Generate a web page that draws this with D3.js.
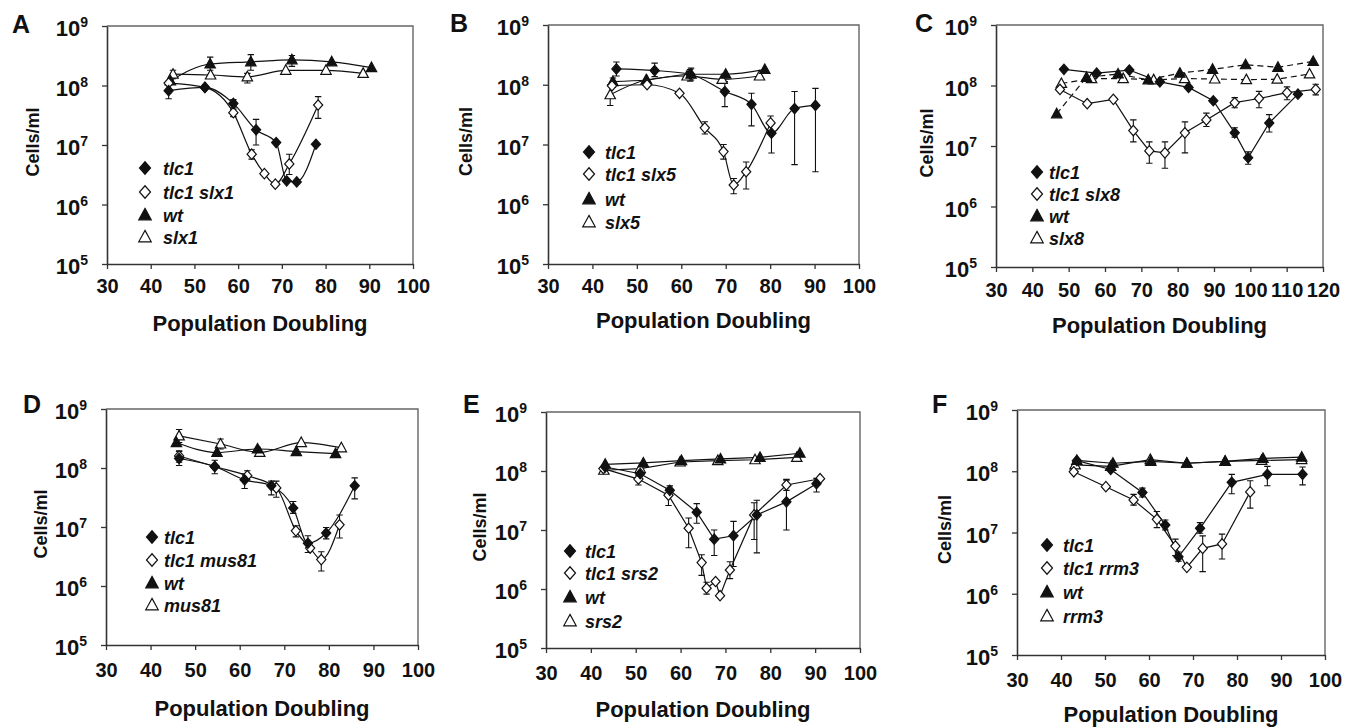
<!DOCTYPE html>
<html><head><meta charset="utf-8">
<script src="https://cdn.jsdelivr.net/npm/d3@7"></script>
<style>
html,body{margin:0;padding:0;background:#fff;}
svg{display:block;font-family:"Liberation Sans",Arial,Helvetica,sans-serif;}
</style></head>
<body><svg id="chart" width="1350" height="727"></svg>
<script>
// ---------- tick labels / categories ----------
const xTicks100 = [30,40,50,60,70,80,90,100];
const xTicks120 = [30,40,50,60,70,80,90,100,110,120];
const yTickExps = [5,6,7,8,9];
const xTitle = "Population Doubling";
const yTitle = "Cells/ml";

const A_names = ["tlc1","tlc1 slx1","wt","slx1"];
const B_names = ["tlc1","tlc1 slx5","wt","slx5"];
const C_names = ["tlc1","tlc1 slx8","wt","slx8"];
const D_names = ["tlc1","tlc1 mus81","wt","mus81"];
const E_names = ["tlc1","tlc1 srs2","wt","srs2"];
const F_names = ["tlc1","tlc1 rrm3","wt","rrm3"];

// ---------- data: [population doubling, cells/ml, error low, error high] ----------
const A_tlc1 = [[44.1,8.2e7,6.0e7,1.1e8],[52.4,9.3e7,null,null],[58.9,5.0e7,4.2e7,5.8e7],[64.1,1.8e7,1.0e7,2.7e7],[68.7,1.1e7,null,null],[71.1,2.5e6,null,null],[73.4,2.4e6,null,null],[77.8,1.03e7,null,null]];
const A_tlc1_slx1 = [[44.1,1.1e8,null,null],[52.4,9.3e7,null,null],[58.9,3.5e7,3.0e7,4.0e7],[63.1,7.0e6,5.8e6,8.3e6],[66.0,3.3e6,null,null],[68.5,2.2e6,null,null],[71.7,4.8e6,3.2e6,7.0e6],[78.3,4.7e7,2.8e7,6.5e7]];
const A_wt = [[44.5,1.2e8,null,null],[53.6,2.3e8,1.8e8,3.0e8],[62.9,2.5e8,1.8e8,3.3e8],[72.3,2.7e8,2.1e8,3.2e8],[81.4,2.5e8,null,null],[90.5,2.0e8,null,null]];
const A_slx1 = [[45.1,1.55e8,1.3e8,1.8e8],[53.7,1.5e8,null,null],[62.1,1.4e8,1.1e8,1.6e8],[70.9,1.8e8,null,null],[80.1,1.8e8,null,null],[88.6,1.6e8,null,null]];

const B_tlc1 = [[45.4,1.84e8,1.4e8,2.4e8],[54.0,1.73e8,1.37e8,2.3e8],[62.0,1.5e8,1.15e8,1.8e8],[69.8,7.7e7,4.3e7,1.13e8],[75.8,4.7e7,2.05e7,7.2e7],[80.3,1.55e7,7.2e6,2.3e7],[85.5,4.0e7,4.6e6,7.7e7],[90.2,4.5e7,3.5e6,8.7e7]];
const B_tlc1_slx5 = [[44.4,9.6e7,null,null],[52.3,1.0e8,null,null],[59.6,7.2e7,null,null],[65.3,1.9e7,1.5e7,2.4e7],[69.5,7.6e6,5.7e6,1.0e7],[71.8,2.1e6,1.5e6,2.7e6],[74.6,3.5e6,1.8e6,5.1e6],[80.1,2.3e7,1.7e7,3.0e7]];
const B_wt = [[44.6,1.13e8,9.0e7,1.3e8],[52.2,1.2e8,null,null],[62.2,1.5e8,1.2e8,1.9e8],[70.0,1.5e8,null,null],[78.8,1.8e8,null,null]];
const B_slx5 = [[44.0,6.8e7,4.5e7,1.0e8],[52.1,1.2e8,null,null],[61.3,1.4e8,null,null],[69.2,1.23e8,null,null],[77.6,1.4e8,null,null]];

const C_tlc1 = [[48.7,1.85e8,null,null],[57.7,1.6e8,null,null],[66.7,1.8e8,null,null],[75.1,1.15e8,null,null],[83.0,9.3e7,null,null],[89.8,5.6e7,null,null],[95.7,1.65e7,1.4e7,2.0e7],[99.4,6.4e6,5.0e6,8.0e6],[105.2,2.4e7,1.7e7,3.3e7],[113.1,7.2e7,null,null]];
const C_tlc1_slx8 = [[47.6,8.6e7,null,null],[55.1,5.0e7,null,null],[62.3,5.9e7,null,null],[67.8,1.8e7,1.17e7,2.7e7],[72.2,8.3e6,5.2e6,1.17e7],[76.5,7.7e6,4.3e6,1.17e7],[82.0,1.65e7,7.7e6,2.5e7],[87.9,2.7e7,2.1e7,3.5e7],[95.7,5.2e7,4.3e7,6.3e7],[102.4,6.1e7,4.3e7,8.0e7],[110.1,7.6e7,5.8e7,9.5e7],[118.0,8.6e7,7.0e7,1.05e8]];
const C_wt = [[46.7,3.4e7,null,null],[54.9,1.36e8,null,null],[63.6,1.55e8,null,null],[71.9,1.24e8,null,null],[80.6,1.6e8,null,null],[89.6,1.85e8,null,null],[98.7,2.2e8,null,null],[107.6,2.0e8,null,null],[117.3,2.5e8,null,null]];
const C_slx8 = [[48.0,1.08e8,null,null],[56.3,1.3e8,null,null],[65.0,1.3e8,null,null],[73.4,1.24e8,null,null],[81.9,1.3e8,null,null],[90.2,1.28e8,null,null],[98.9,1.25e8,null,null],[107.4,1.27e8,null,null],[116.3,1.55e8,null,null]];

const D_tlc1 = [[46.4,1.45e8,1.1e8,1.9e8],[54.4,1.06e8,8.0e7,1.35e8],[61.1,6.3e7,4.5e7,8.0e7],[67.1,5.0e7,3.5e7,6.0e7],[72.0,2.1e7,1.7e7,2.7e7],[75.3,5.3e6,3.7e6,7.1e6],[79.4,7.9e6,6.3e6,9.8e6],[85.8,5.0e7,3.0e7,6.8e7]];
const D_tlc1_mus81 = [[46.4,1.6e8,1.25e8,1.95e8],[54.4,1.06e8,null,null],[61.7,7.4e7,6.3e7,9.0e7],[68.2,4.6e7,3.2e7,6.0e7],[72.6,8.6e6,6.8e6,1.05e7],[75.8,4.4e6,null,null],[78.3,2.8e6,1.8e6,3.8e6],[82.4,1.09e7,6.5e6,1.6e7]];
const D_wt = [[45.8,2.7e8,null,null],[54.9,1.83e8,null,null],[64.0,2.1e8,null,null],[72.7,1.9e8,null,null],[81.5,1.75e8,null,null]];
const D_mus81 = [[46.4,3.5e8,2.7e8,4.5e8],[55.7,2.55e8,2.1e8,3.1e8],[64.5,1.84e8,null,null],[73.8,2.7e8,null,null],[82.8,2.2e8,null,null]];

const E_tlc1 = [[43.2,1.17e8,null,null],[51.0,9.0e7,null,null],[57.6,4.7e7,3.9e7,5.6e7],[63.6,2.0e7,1.3e7,2.8e7],[67.5,7.0e6,3.7e6,1.0e7],[71.8,8.0e6,2.4e6,1.4e7],[77.0,1.8e7,4.1e6,3.2e7],[83.6,3.0e7,1.0e7,7.2e7],[90.3,6.1e7,4.4e7,7.5e7]];
const E_tlc1_srs2 = [[42.8,1.1e8,null,null],[50.6,7.3e7,5.8e7,8.5e7],[57.3,3.9e7,2.6e7,5.1e7],[61.8,1.07e7,5.0e6,1.6e7],[64.7,2.8e6,1.7e6,3.8e6],[65.8,1.03e6,8.2e5,1.3e6],[67.8,1.34e6,null,null],[68.8,7.7e5,null,null],[71.0,2.1e6,1.5e6,2.9e6],[76.4,1.8e7,6.9e6,2.9e7],[83.6,5.8e7,4.7e7,7.0e7],[91.1,7.4e7,null,null]];
const E_wt = [[43.2,1.3e8,null,null],[51.7,1.37e8,null,null],[60.2,1.5e8,null,null],[68.9,1.6e8,null,null],[77.7,1.7e8,null,null],[86.6,2.0e8,null,null]];
const E_srs2 = [[42.9,1.03e8,null,null],[51.0,1.1e8,null,null],[59.9,1.42e8,null,null],[68.3,1.5e8,null,null],[76.6,1.55e8,null,null],[85.9,1.7e8,null,null]];

const F_tlc1 = [[43.6,1.49e8,null,null],[51.3,1.07e8,null,null],[58.5,4.5e7,3.8e7,5.3e7],[63.7,1.32e7,1.1e7,1.6e7],[66.7,4.0e6,3.4e6,4.8e6],[71.6,1.17e7,9.7e6,1.45e7],[78.8,6.6e7,4.3e7,8.9e7],[86.9,8.9e7,5.8e7,1.2e8],[94.9,8.9e7,6.0e7,1.17e8]];
const F_tlc1_rrm3 = [[42.9,9.8e7,null,null],[50.2,5.6e7,null,null],[56.5,3.4e7,2.8e7,4.2e7],[61.8,1.64e7,1.2e7,2.2e7],[66.0,6.0e6,4.2e6,7.8e6],[68.6,2.7e6,null,null],[72.2,5.5e6,2.3e6,8.8e6],[76.6,6.5e6,3.7e6,9.4e6],[83.0,4.6e7,2.5e7,7.0e7]];
const F_wt = [[43.6,1.5e8,null,null],[51.8,1.35e8,null,null],[60.4,1.45e8,null,null],[68.6,1.35e8,null,null],[77.3,1.45e8,null,null],[85.9,1.62e8,null,null],[94.7,1.7e8,null,null]];
const F_rrm3 = [[43.2,1.27e8,null,null],[51.3,1.2e8,null,null],[60.3,1.55e8,null,null],[68.6,1.35e8,null,null],[77.3,1.45e8,null,null],[85.6,1.5e8,null,null],[94.7,1.55e8,null,null]];

// ---------- layout ----------
const panels = [
  {id:"A", box:[107,26,413,264], xd:[30,100], xt:xTicks100, series:[A_tlc1,A_tlc1_slx1,A_wt,A_slx1], names:A_names, smooth:true, dashed:false,
   letter:[12,33], yTitleX:32, xLabOff:29, titleOff:67, leg:{sx:145, tx:163, ys:[168,192,215,237]}},
  {id:"B", box:[548,25,859,264], xd:[30,100], xt:xTicks100, series:[B_tlc1,B_tlc1_slx5,B_wt,B_slx5], names:B_names, smooth:true, dashed:false,
   letter:[450,32], yTitleX:465, xLabOff:29, titleOff:64, leg:{sx:589, tx:605, ys:[152,174,199,222]}},
  {id:"C", box:[996,25,1323,267], xd:[30,120], xt:xTicks120, series:[C_tlc1,C_tlc1_slx8,C_wt,C_slx8], names:C_names, smooth:false, dashed:true,
   letter:[915,32], yTitleX:926, xLabOff:30, titleOff:66, leg:{sx:1037, tx:1049, ys:[172,194,216,238]}},
  {id:"D", box:[106,409,418,645], xd:[30,100], xt:xTicks100, series:[D_tlc1,D_tlc1_mus81,D_wt,D_mus81], names:D_names, smooth:true, dashed:false,
   letter:[23,413], yTitleX:40, xLabOff:32, titleOff:71, leg:{sx:152, tx:164, ys:[537,560,583,605]}},
  {id:"E", box:[546,412,860,648], xd:[30,100], xt:xTicks100, series:[E_tlc1,E_tlc1_srs2,E_wt,E_srs2], names:E_names, smooth:false, dashed:false,
   letter:[463,413], yTitleX:479, xLabOff:32, titleOff:69, leg:{sx:570, tx:585, ys:[551,573,597,621]}},
  {id:"F", box:[1017,410,1325,655], xd:[30,100], xt:xTicks100, series:[F_tlc1,F_tlc1_rrm3,F_wt,F_rrm3], names:F_names, smooth:false, dashed:false,
   letter:[932,413], yTitleX:944, xLabOff:32, titleOff:67, leg:{sx:1047, tx:1063, ys:[545,568,592,616]}}
];

const svg = d3.select("#chart");
const INK = "#111";

function diamondPath(cx, cy, hw, hh){ return `M${cx},${cy-hh}L${cx+hw},${cy}L${cx},${cy+hh}L${cx-hw},${cy}Z`; }
function trianglePath(cx, cy, hw, h){ return `M${cx},${cy-h*0.58}L${cx+hw},${cy+h*0.42}L${cx-hw},${cy+h*0.42}Z`; }
function marker(sel, k, cx, cy, big){
  const s = big ? 1.2 : 1;
  const filled = (k===0 || k===2);
  const d = (k<2) ? diamondPath(cx,cy,4.6*s,5.2*s) : trianglePath(cx,cy,5.2*s,9.5*s);
  sel.append("path").attr("d", d)
    .attr("fill", filled ? INK : "#fff")
    .attr("stroke", INK).attr("stroke-width", 1.2).attr("stroke-linejoin","miter");
}

panels.forEach(p => {
  const [L,T,R,B] = p.box;
  const x = d3.scaleLinear().domain(p.xd).range([L,R]);
  const y = d3.scaleLog().domain([1e5,1e9]).range([B,T]);
  const g = svg.append("g");

  // frame (top/right)
  g.append("path").attr("d", `M${L},${T}H${R}V${B}`).attr("fill","none").attr("stroke","#666").attr("stroke-width",1.4);

  // x axis
  const xa = g.append("g").attr("transform", `translate(0,${B})`)
    .call(d3.axisBottom(x).tickValues(p.xt).tickSize(5).tickSizeOuter(0).tickPadding(p.xLabOff - 14.2 - 5));
  xa.select(".domain").attr("stroke","#333").attr("stroke-width",1.6);
  xa.selectAll(".tick line").attr("stroke","#333").attr("stroke-width",1.3);
  xa.selectAll(".tick text").attr("font-size",20).attr("font-weight","bold").attr("fill",INK)
    .attr("font-family","'Liberation Sans',Arial,sans-serif");

  // y axis
  const ya = g.append("g").attr("transform", `translate(${L},0)`)
    .call(d3.axisLeft(y).tickValues(yTickExps.map(e => Math.pow(10,e))).tickSize(5).tickSizeOuter(0).tickFormat(() => ""));
  ya.select(".domain").attr("stroke","#333").attr("stroke-width",1.6);
  ya.selectAll(".tick line").attr("stroke","#333").attr("stroke-width",1.3);
  yTickExps.forEach(e => {
    const t = g.append("text").attr("x", L-19).attr("y", y(Math.pow(10,e))+10)
      .attr("text-anchor","end").attr("font-size",22).attr("font-weight","bold").attr("fill",INK);
    t.append("tspan").text("10");
    t.append("tspan").attr("dy",-9).attr("font-size",14).text(String(e));
  });

  // titles
  g.append("text").attr("x",(L+R)/2).attr("y",B+p.titleOff).attr("text-anchor","middle")
    .attr("font-size",22).attr("font-weight","bold").attr("fill",INK).text(xTitle);
  const cy = (T+B)/2 - 3;
  g.append("text").attr("transform",`translate(${p.yTitleX+6.5},${cy}) rotate(-90)`).attr("text-anchor","middle")
    .attr("font-size",18).attr("font-weight","bold").attr("fill",INK).text(yTitle);
  g.append("text").attr("x",p.letter[0]).attr("y",p.letter[1]).attr("font-size",25).attr("font-weight","bold")
    .attr("fill",INK).text(p.id);

  // lines
  const line = d3.line().x(d => x(d[0])).y(d => y(d[1])).curve(p.smooth ? d3.curveMonotoneX : d3.curveLinear);
  p.series.forEach((s,k) => {
    g.append("path").datum(s).attr("d", line).attr("fill","none").attr("stroke",INK).attr("stroke-width",1.2)
      .attr("stroke-dasharray", (p.dashed && k>=2) ? "6,4" : null);
  });
  // error bars
  p.series.forEach(s => {
    s.filter(d => d[2] != null).forEach(d => {
      const cx = x(d[0]), y0 = y(d[2]), y1 = y(d[3]);
      g.append("path").attr("d", `M${cx},${y0}V${y1}M${cx-3.2},${y0}H${cx+3.2}M${cx-3.2},${y1}H${cx+3.2}`)
        .attr("fill","none").attr("stroke",INK).attr("stroke-width",1.1);
    });
  });
  // markers (triangles first, diamonds on top)
  [3,2,1,0].forEach(k => {
    p.series[k].forEach(d => marker(g, k, x(d[0]), y(d[1]), false));
  });

  // legend
  p.names.forEach((n,k) => {
    const ly = p.leg.ys[k];
    marker(g, k, p.leg.sx, ly, true);
    g.append("text").attr("x", p.leg.tx).attr("y", ly+6.5).attr("font-size",18).attr("font-weight","bold")
      .attr("font-style","italic").attr("fill",INK).text(n);
  });
});
</script>
</body></html>
